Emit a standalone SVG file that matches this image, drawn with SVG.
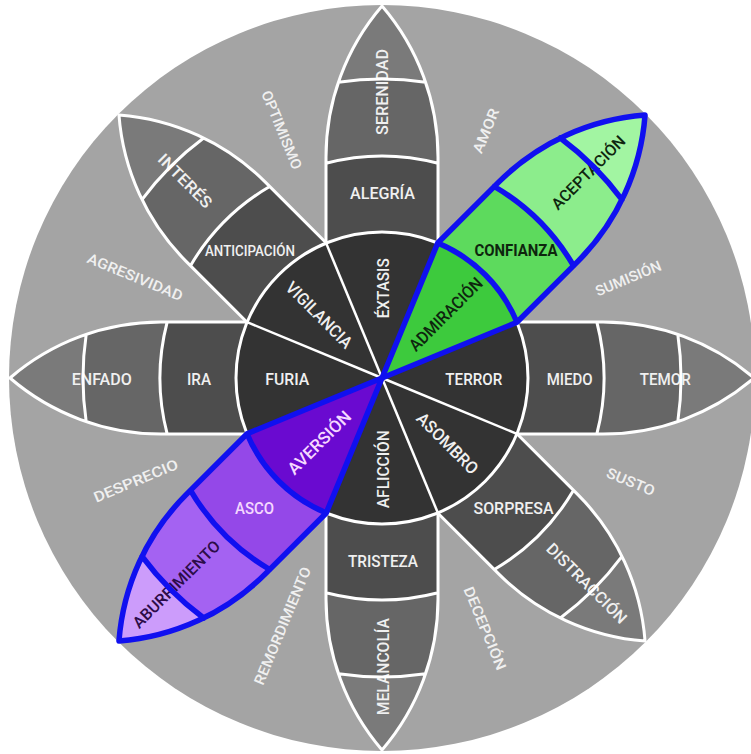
<svg xmlns="http://www.w3.org/2000/svg" xmlns:xlink="http://www.w3.org/1999/xlink" width="751" height="754" viewBox="0 0 751 754">
<style>
.g2{fill:#4d4d4d}.g3{fill:#666666}.g4{fill:#7a7a7a}
.v2{fill:#5dda5d}.v3{fill:#8ced8c}.v4{fill:#a2f5a2}
.u2{fill:#9448e8}.u3{fill:#a462f2}.u4{fill:#cc9cfb}
.wl{fill:none;stroke:#ffffff;stroke-width:3;stroke-linejoin:round}
.bl{fill:none;stroke:#1010f0;stroke-width:5.5;stroke-linejoin:round;stroke-linecap:round}
.wd{stroke:#ffffff;stroke-width:2.5}
text{font-family:Roboto,"DejaVu Sans","Liberation Sans",sans-serif;font-weight:500;text-anchor:middle;fill:#f0f0f0}
.s17{font-size:17px}.s16{font-size:16px}.s15{font-size:15px}.s14{font-size:14.5px}
.dk{fill:#0e260e}.dp{fill:#2c0c48}.lp{fill:#f5d8ff}
.bd{font-weight:bold}
</style>
<defs>
<path id="b2" d="M134.83,-56 L214.82,-56 A222,222 0 0 1 214.82,56 L134.83,56 A146,146 0 0 0 134.83,-56 Z"/>
<path id="b3" d="M214.82,-56 L221,-56 A231.6,231.6 0 0 1 295.8,-43.6 A299,299 0 0 1 295.8,43.6 A231.6,231.6 0 0 1 221,56 L214.82,56 A222,222 0 0 0 214.82,-56 Z"/>
<path id="b4" d="M295.8,-43.6 A231.6,231.6 0 0 1 372,0 A231.6,231.6 0 0 1 295.8,43.6 A299,299 0 0 0 295.8,-43.6 Z"/>
<path id="ln" d="M134.83,-56 L221,-56 A231.6,231.6 0 0 1 372,0 A231.6,231.6 0 0 1 221,56 L134.83,56 M214.82,-56 A222,222 0 0 1 214.82,56 M295.8,-43.6 A299,299 0 0 1 295.8,43.6"/>
<path id="hl" d="M0,0 L134.83,-56 L221,-56 A231.6,231.6 0 0 1 372,0 A231.6,231.6 0 0 1 221,56 L134.83,56 Z M134.83,-56 A146,146 0 0 1 134.83,56 M214.82,-56 A222,222 0 0 1 214.82,56 M295.8,-43.6 A299,299 0 0 1 295.8,43.6"/>
</defs>
<rect width="751" height="754" fill="#ffffff"/>
<g id="disc"><circle cx="382" cy="378" r="373" fill="#a4a4a4"/></g>

<g id="petal-alegria">
<g transform="translate(382 378) rotate(-90)"><use xlink:href="#b2" class="g2"/><use xlink:href="#b3" class="g3"/><use xlink:href="#b4" class="g4"/></g>
<text class="s16" transform="translate(382.5 193)" dy="0.35em" textLength="65" lengthAdjust="spacingAndGlyphs">ALEGRÍA</text>
<text class="s16" transform="translate(382.7 92) rotate(-90)" dy="0.35em" textLength="86" lengthAdjust="spacingAndGlyphs">SERENIDAD</text>
<use xlink:href="#ln" class="wl" transform="translate(382 378) rotate(-90)"/>
</g>

<g id="petal-confianza">
<g transform="translate(382 378) rotate(-45)"><use xlink:href="#b2" class="v2"/><use xlink:href="#b3" class="v3"/><use xlink:href="#b4" class="v4"/></g>
<text class="s17 dk bd" transform="translate(516 250)" dy="0.35em" textLength="83" lengthAdjust="spacingAndGlyphs">CONFIANZA</text>
<text class="s16 dk" transform="translate(588.3 172.5) rotate(-45)" dy="0.35em" textLength="97" lengthAdjust="spacingAndGlyphs">ACEPTACIÓN</text>
</g>

<g id="petal-miedo">
<g transform="translate(382 378)"><use xlink:href="#b2" class="g2"/><use xlink:href="#b3" class="g3"/><use xlink:href="#b4" class="g4"/></g>
<text class="s16" transform="translate(569.7 379.3)" dy="0.35em" textLength="46" lengthAdjust="spacingAndGlyphs">MIEDO</text>
<text class="s16" transform="translate(665.3 379.3)" dy="0.35em" textLength="51" lengthAdjust="spacingAndGlyphs">TEMOR</text>
<use xlink:href="#ln" class="wl" transform="translate(382 378)"/>
</g>

<g id="petal-sorpresa">
<g transform="translate(382 378) rotate(45)"><use xlink:href="#b2" class="g2"/><use xlink:href="#b3" class="g3"/><use xlink:href="#b4" class="g4"/></g>
<text class="s16" transform="translate(513.5 508.3)" dy="0.35em" textLength="80" lengthAdjust="spacingAndGlyphs">SORPRESA</text>
<text class="s16" transform="translate(586.7 583.3) rotate(45)" dy="0.35em" textLength="106" lengthAdjust="spacingAndGlyphs">DISTRACCIÓN</text>
<use xlink:href="#ln" class="wl" transform="translate(382 378) rotate(45)"/>
</g>

<g id="petal-tristeza">
<g transform="translate(382 378) rotate(90)"><use xlink:href="#b2" class="g2"/><use xlink:href="#b3" class="g3"/><use xlink:href="#b4" class="g4"/></g>
<text class="s16" transform="translate(383 561.7)" dy="0.35em" textLength="70" lengthAdjust="spacingAndGlyphs">TRISTEZA</text>
<text class="s16" transform="translate(383 666.7) rotate(-90)" dy="0.35em" textLength="97" lengthAdjust="spacingAndGlyphs">MELANCOLÍA</text>
<use xlink:href="#ln" class="wl" transform="translate(382 378) rotate(90)"/>
</g>

<g id="petal-asco">
<g transform="translate(382 378) rotate(135)"><use xlink:href="#b2" class="u2"/><use xlink:href="#b3" class="u3"/><use xlink:href="#b4" class="u4"/></g>
<text class="s16 lp" transform="translate(254.5 508.3)" dy="0.35em" textLength="39" lengthAdjust="spacingAndGlyphs">ASCO</text>
<text class="s16 dp" transform="translate(176.3 584.2) rotate(-45)" dy="0.35em" textLength="116" lengthAdjust="spacingAndGlyphs">ABURRIMIENTO</text>
</g>

<g id="petal-ira">
<g transform="translate(382 378) rotate(180)"><use xlink:href="#b2" class="g2"/><use xlink:href="#b3" class="g3"/><use xlink:href="#b4" class="g4"/></g>
<text class="s16" transform="translate(199 379)" dy="0.35em" textLength="24" lengthAdjust="spacingAndGlyphs">IRA</text>
<text class="s16" transform="translate(101.7 379)" dy="0.35em" textLength="60" lengthAdjust="spacingAndGlyphs">ENFADO</text>
<use xlink:href="#ln" class="wl" transform="translate(382 378) rotate(180)"/>
</g>

<g id="petal-anticipacion">
<g transform="translate(382 378) rotate(-135)"><use xlink:href="#b2" class="g2"/><use xlink:href="#b3" class="g3"/><use xlink:href="#b4" class="g4"/></g>
<text class="s15" transform="translate(250 250.5)" dy="0.35em" textLength="90" lengthAdjust="spacingAndGlyphs">ANTICIPACIÓN</text>
<text class="s16" transform="translate(185 180.8) rotate(45)" dy="0.35em" textLength="69" lengthAdjust="spacingAndGlyphs">INTERÉS</text>
<use xlink:href="#ln" class="wl" transform="translate(382 378) rotate(-135)"/>
</g>

<g id="inner-circle">
<circle cx="382" cy="378" r="146" fill="#333333"/>
<path d="M382,378 L437.87,243.11 A146,146 0 0 1 516.89,322.13 Z" fill="#3dca3d"/>
<path d="M382,378 L326.13,512.89 A146,146 0 0 1 247.11,433.87 Z" fill="#6a0ad0"/>
<g class="wd">
<line x1="382" y1="378" x2="516.89" y2="433.87"/>
<line x1="382" y1="378" x2="437.87" y2="512.89"/>
<line x1="382" y1="378" x2="326.13" y2="512.89"/>
<line x1="382" y1="378" x2="247.11" y2="433.87"/>
<line x1="382" y1="378" x2="247.11" y2="322.13"/>
<line x1="382" y1="378" x2="326.13" y2="243.11"/>
<line x1="382" y1="378" x2="437.87" y2="243.11"/>
<line x1="382" y1="378" x2="516.89" y2="322.13"/>
</g>
<circle cx="382" cy="378" r="146" fill="none" stroke="#ffffff" stroke-width="3"/>
<text class="s17" transform="translate(383.3 288.3) rotate(-90)" dy="0.35em" textLength="60" lengthAdjust="spacingAndGlyphs">ÉXTASIS</text>
<text class="s17 dk" transform="translate(445.8 314.2) rotate(-45)" dy="0.35em" textLength="96" lengthAdjust="spacingAndGlyphs">ADMIRACIÓN</text>
<text class="s17" transform="translate(473.8 379)" dy="0.35em" textLength="57" lengthAdjust="spacingAndGlyphs">TERROR</text>
<text class="s17" transform="translate(447.5 443.3) rotate(45)" dy="0.35em" textLength="79" lengthAdjust="spacingAndGlyphs">ASOMBRO</text>
<text class="s17" transform="translate(383.3 469.2) rotate(-90)" dy="0.35em" textLength="78" lengthAdjust="spacingAndGlyphs">AFLICCIÓN</text>
<text class="s17 lp" transform="translate(319.2 442.5) rotate(-45)" dy="0.35em" textLength="82" lengthAdjust="spacingAndGlyphs">AVERSIÓN</text>
<text class="s17" transform="translate(287.2 379)" dy="0.35em" textLength="44" lengthAdjust="spacingAndGlyphs">FURIA</text>
<text class="s17" transform="translate(319.2 315) rotate(45)" dy="0.35em" textLength="86" lengthAdjust="spacingAndGlyphs">VIGILANCIA</text>
</g>

<g id="highlights">
<use xlink:href="#hl" class="bl" transform="translate(382 378) rotate(-45)"/>
<use xlink:href="#hl" class="bl" transform="translate(382 378) rotate(135)"/>
</g>

<g id="outer-labels">
<text class="s14" transform="translate(485.8 130.8) rotate(-67.5)" dy="0.35em" textLength="47" lengthAdjust="spacingAndGlyphs">AMOR</text>
<text class="s14" transform="translate(628.3 278.3) rotate(-22.5)" dy="0.35em" textLength="70" lengthAdjust="spacingAndGlyphs">SUMISIÓN</text>
<text class="s14" transform="translate(630.8 481.7) rotate(22.5)" dy="0.35em" textLength="51" lengthAdjust="spacingAndGlyphs">SUSTO</text>
<text class="s14" transform="translate(485 628.3) rotate(67.5)" dy="0.35em" textLength="89" lengthAdjust="spacingAndGlyphs">DECEPCIÓN</text>
<text class="s14" transform="translate(282.5 625.8) rotate(-67.5)" dy="0.35em" textLength="126" lengthAdjust="spacingAndGlyphs">REMORDIMIENTO</text>
<text class="s14" transform="translate(135.8 480.8) rotate(-22.5)" dy="0.35em" textLength="90" lengthAdjust="spacingAndGlyphs">DESPRECIO</text>
<text class="s14" transform="translate(135 277) rotate(22.5)" dy="0.35em" textLength="102" lengthAdjust="spacingAndGlyphs">AGRESIVIDAD</text>
<text class="s14" transform="translate(281.7 130) rotate(67.5)" dy="0.35em" textLength="84" lengthAdjust="spacingAndGlyphs">OPTIMISMO</text>
</g>
<g id="connectors"/>
</svg>
